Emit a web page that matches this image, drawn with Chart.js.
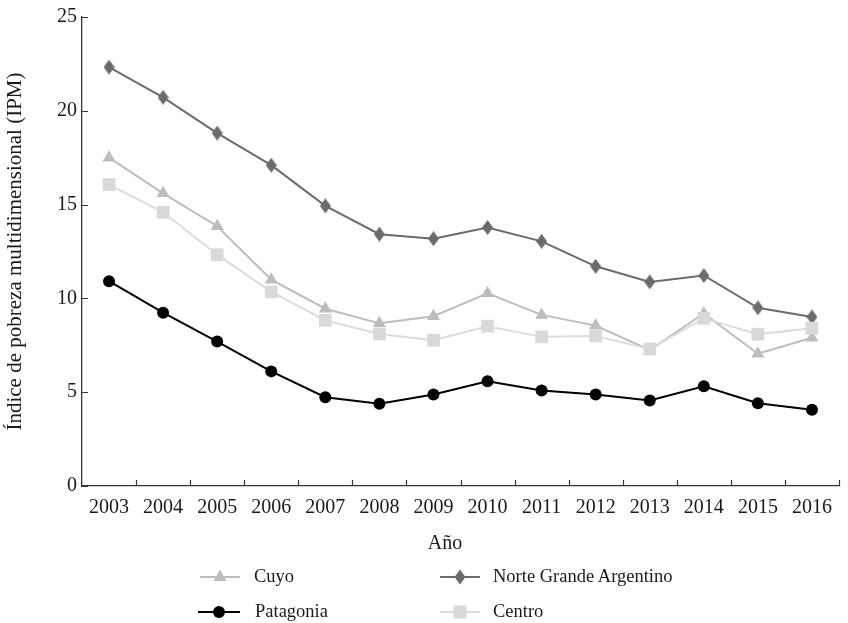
<!DOCTYPE html>
<html>
<head>
<meta charset="utf-8">
<script src="https://cdn.jsdelivr.net/npm/chart.js@4.4.1/dist/chart.umd.min.js"></script>
<style>
  html, body { margin: 0; padding: 0; background: #fff; }
  #wrap { position: relative; width: 848px; height: 623px; }
  #c { position: absolute; left: 0; top: 0; }
  .txt { position: absolute; font-family: "Liberation Serif", "Times New Roman", serif; color: #1a1a1a; white-space: nowrap; line-height: 1; }
  .leg { position: absolute; }
</style>
</head>
<body>
<div id="wrap">
  <canvas id="c" width="848" height="623"></canvas>
  <div id="xtitle" class="txt" style="left:445px; top:532px; font-size:20px; transform:translateX(-50%);"></div>
  <div id="legend"></div>
</div>
<script>
const years = ["2003","2004","2005","2006","2007","2008","2009","2010","2011","2012","2013","2014","2015","2016"];
const cuyo = [17.5, 15.6, 13.85, 11.0, 9.45, 8.67, 9.05, 10.27, 9.12, 8.55, 7.25, 9.2, 7.05, 7.9];
const norteGrande = [22.33, 20.72, 18.81, 17.1, 14.93, 13.42, 13.18, 13.78, 13.04, 11.71, 10.88, 11.22, 9.5, 9.01];
const patagonia = [10.92, 9.24, 7.7, 6.11, 4.73, 4.38, 4.88, 5.58, 5.09, 4.88, 4.56, 5.32, 4.41, 4.06];
const centro = [16.07, 14.59, 12.33, 10.35, 8.83, 8.1, 7.77, 8.52, 7.95, 8.0, 7.3, 8.94, 8.09, 8.41];
const yTicks = [0, 5, 10, 15, 20, 25];
const yTitle = "Índice de pobreza multidimensional (IPM)";
const xTitle = "Año";

const colCuyo = "#bdbdbd";
const colNGA = "#6b6b6b";
const colPat = "#000000";
const colCentro = "#d9d9db";
const colCentroLine = "#dcdcdc";

function diamondCanvas(w, h, color) {
  const c = document.createElement('canvas');
  c.width = w; c.height = h;
  const g = c.getContext('2d');
  g.fillStyle = color;
  g.beginPath();
  g.moveTo(w / 2, 0); g.lineTo(w, h / 2); g.lineTo(w / 2, h); g.lineTo(0, h / 2);
  g.closePath(); g.fill();
  return c;
}
const diamond = diamondCanvas(11, 15, colNGA);

document.getElementById('xtitle').textContent = xTitle;

const tickMarks = {
  id: 'tickMarks',
  afterDraw(chart) {
    const ctx = chart.ctx, a = chart.chartArea;
    const xs = chart.scales.x, ys = chart.scales.y;
    ctx.save();
    ctx.strokeStyle = '#333';
    ctx.lineWidth = 1.2;
    ctx.beginPath();
    ys.ticks.forEach(t => {
      const py = Math.round(ys.getPixelForValue(t.value)) + 0.5;
      ctx.moveTo(a.left, py); ctx.lineTo(a.left + 6, py);
    });
    const half = (xs.getPixelForValue(1) - xs.getPixelForValue(0)) / 2;
    for (let i = 0; i < years.length; i++) {
      const px = Math.round(xs.getPixelForValue(i) + half) + 0.5;
      ctx.moveTo(px, a.bottom); ctx.lineTo(px, a.bottom - 6);
    }
    ctx.stroke();
    ctx.restore();
  }
};

const serif = "'Liberation Serif', 'Times New Roman', serif";

const chart = new Chart(document.getElementById('c'), {
  type: 'line',
  data: {
    labels: years,
    datasets: [
      { label: 'Patagonia', data: patagonia, borderColor: colPat, backgroundColor: colPat, borderWidth: 2, pointStyle: 'circle', pointRadius: 6, pointHoverRadius: 6, pointBorderWidth: 0 },
      { label: 'Centro', data: centro, borderColor: colCentroLine, backgroundColor: colCentro, borderWidth: 2, pointStyle: 'rect', pointRadius: 9, pointHoverRadius: 9, pointBorderWidth: 0 },
      { label: 'Cuyo', data: cuyo, borderColor: colCuyo, backgroundColor: colCuyo, borderWidth: 2, pointStyle: 'triangle', pointRadius: 7.5, pointHoverRadius: 7.5, pointBorderWidth: 0 },
      { label: 'Norte Grande Argentino', data: norteGrande, borderColor: colNGA, backgroundColor: colNGA, borderWidth: 2, pointStyle: diamond, pointRadius: 7, pointBorderWidth: 0 }
    ]
  },
  options: {
    responsive: false,
    animation: false,
    events: [],
    layout: { padding: { top: 14, right: 2, bottom: 0, left: 0 } },
    plugins: { legend: { display: false }, tooltip: { enabled: false } },
    elements: { line: { tension: 0 } },
    scales: {
      x: {
        type: 'category',
        offset: true,
        grid: { display: true, offset: true, drawOnChartArea: false, drawTicks: false },
        border: { display: true, color: '#333', width: 1.3 },
        ticks: { color: '#1a1a1a', font: { family: serif, size: 20 }, padding: 10, maxRotation: 0, autoSkip: false },
        afterFit(s) { s.height = 137; }
      },
      y: {
        min: 0, max: 25,
        afterBuildTicks(s) { s.ticks = yTicks.map(v => ({ value: v })); },
        grid: { display: true, drawOnChartArea: false, drawTicks: false },
        border: { display: true, color: '#333', width: 1.3 },
        ticks: { color: '#1a1a1a', font: { family: serif, size: 20 }, padding: 5 },
        title: { display: true, text: yTitle, color: '#1a1a1a', font: { family: serif, size: 21 }, padding: { top: 3, bottom: 0 } },
        afterFit(s) { s.width = 82; }
      }
    }
  },
  plugins: [tickMarks]
});

// HTML legend built from dataset styles
const legendItems = [
  { ds: 2, lx: 200, ty: 577, tx: 254 },
  { ds: 3, lx: 440, ty: 577, tx: 493 },
  { ds: 0, lx: 198, ty: 612, tx: 255 },
  { ds: 1, lx: 440, ty: 612, tx: 493 }
];
const legend = document.getElementById('legend');
legendItems.forEach(it => {
  const d = chart.data.datasets[it.ds];
  const w = it.ds === 0 ? 42 : 40;
  let marker = '';
  const cx = w / 2, cy = 8;
  if (d.pointStyle === 'circle') marker = `<circle cx="${cx}" cy="${cy}" r="6" fill="${d.backgroundColor}"/>`;
  else if (d.pointStyle === 'rect') marker = `<rect x="${cx - 6.5}" y="${cy - 6.5}" width="13" height="13" fill="${d.backgroundColor}"/>`;
  else if (d.pointStyle === 'triangle') marker = `<polygon points="${cx},${cy - 7.5} ${cx + 6.5},${cy + 4} ${cx - 6.5},${cy + 4}" fill="${d.backgroundColor}"/>`;
  else marker = `<polygon points="${cx},${cy - 7.5} ${cx + 5.5},${cy} ${cx},${cy + 7.5} ${cx - 5.5},${cy}" fill="${d.backgroundColor}"/>`;
  const svg = document.createElement('div');
  svg.className = 'leg';
  svg.style.left = it.lx + 'px';
  svg.style.top = (it.ty - 8) + 'px';
  svg.innerHTML = `<svg width="${w}" height="16"><line x1="0" y1="${cy}" x2="${w}" y2="${cy}" stroke="${d.borderColor}" stroke-width="2"/>${marker}</svg>`;
  legend.appendChild(svg);
  const t = document.createElement('div');
  t.className = 'txt';
  t.style.left = it.tx + 'px';
  t.style.top = (it.ty - 10) + 'px';
  t.style.fontSize = '18.5px';
  t.textContent = d.label;
  legend.appendChild(t);
});
</script>
</body>
</html>
